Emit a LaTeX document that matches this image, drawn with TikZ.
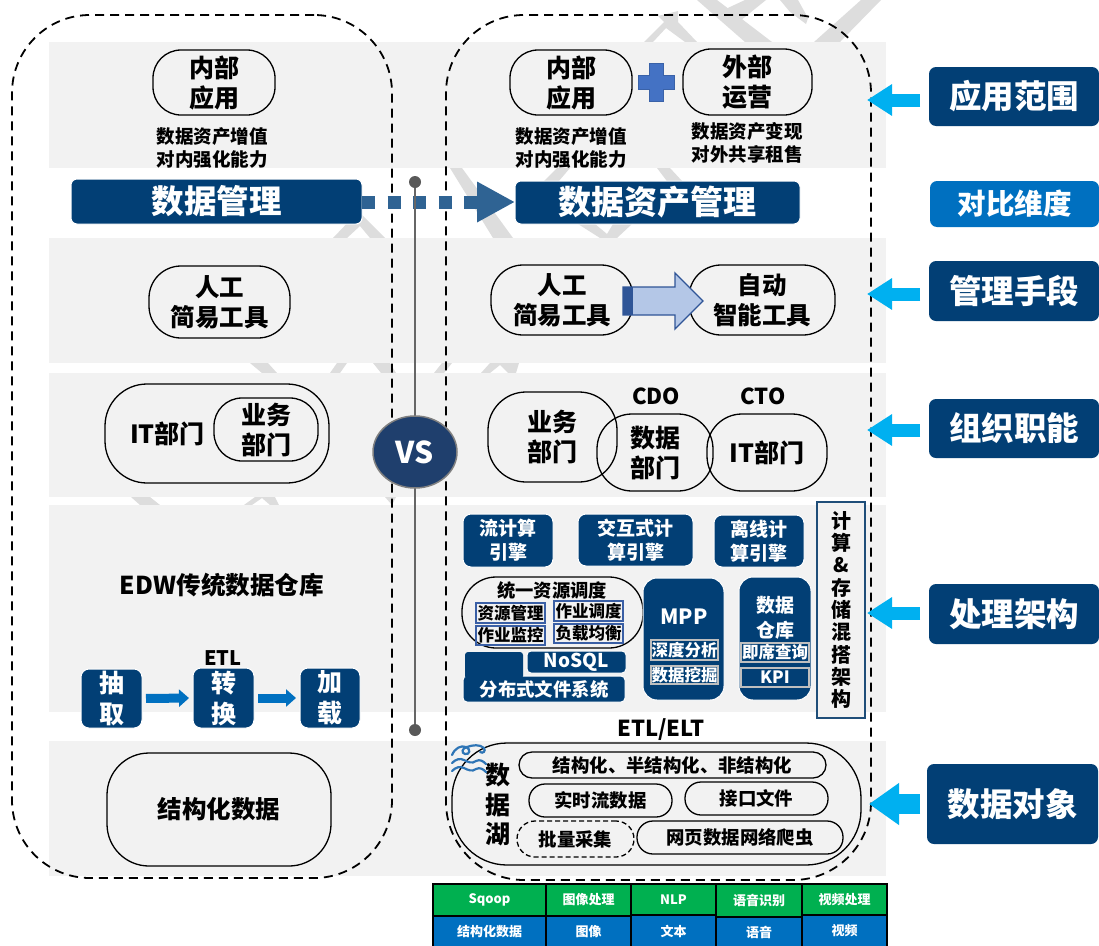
\documentclass[tikz,border=0pt]{standalone}
\usepackage{fontspec}
\setmainfont{Noto Sans CJK SC}
\usetikzlibrary{arrows.meta,shapes.geometric}
\definecolor{navy}{HTML}{023F75}
\definecolor{band}{HTML}{F2F2F2}
\definecolor{wm}{HTML}{DDDDDD}
\definecolor{cyanar}{HTML}{00B0F0}
\definecolor{midblue}{HTML}{0070C0}
\definecolor{tgreen}{HTML}{00B050}
\definecolor{dashblue}{HTML}{2F6393}
\definecolor{plusf}{HTML}{4472C4}
\definecolor{plusd}{HTML}{3A62A8}
\definecolor{arrf}{HTML}{B4C7E7}
\definecolor{arrd}{HTML}{2F5597}
\definecolor{insetb}{HTML}{3A5FA5}
\definecolor{vsf}{HTML}{1F3F6D}
\definecolor{wavec}{HTML}{2E75B6}
\definecolor{frm}{HTML}{1F4E79}
\newcommand\bx[7]{\pgfmathsetmacro\bxcx{(#2+#4)/2}\pgfmathsetmacro\bxcy{(#3+#5)/2}\pgfmathsetmacro\bxw{#4-#2}\pgfmathsetmacro\bxh{#5-#3}\node[#6,minimum width=\bxw pt,minimum height=\bxh pt] (#1) at (\bxcx,\bxcy) {#7};}
\tikzset{
  fs/.style 2 args={font=\fontsize{#1}{#2}\selectfont\bfseries,align=center,inner sep=0pt,outer sep=0pt},
  pill/.style={draw=black,line width=1.3pt,rounded corners=#1},
  navybox/.style={fill=navy,draw=white,line width=1pt,text=white,rounded corners=#1},
  sidebox/.style={fill=navy,text=white,rounded corners=7pt,fs={32.5}{36}},
  inset/.style={draw=#1,line width=1.5pt,fs={16.5}{18}},
  cyarrow/.style={cyanar,line width=13pt,-{Triangle[length=25pt,width=30pt]}},
  etlarrow/.style={midblue,line width=9pt,-{Triangle[length=10pt,width=17pt]},shorten >=4pt,shorten <=4pt},
  dashedbox/.style={draw=black,line width=1.8pt,dash pattern=on 9pt off 6pt,rounded corners=78pt},
  cell/.style={draw=black,line width=2pt,fill=#1,text=white,fs={13}{15}},
  dot/.style={circle,fill=black!65,minimum size=12pt,inner sep=0pt},
  wavestroke/.style={wavec,line width=2.2pt,line cap=round},
}
\begin{document}
\begin{tikzpicture}[x=1pt,y=-1pt]
\useasboundingbox (0,0) rectangle (1099,945);
\fill[white] (0,0) rectangle (1099,945);
% watermark
\fill[wm] (697,0)--(717,0)--(772,42)--(745,42)--cycle;
\fill[wm] (780,0)--(798,0)--(808,18)--(806,24)--(790,12)--cycle;
\fill[wm] (861,0)--(881,0)--(840,42)--(814,42)--cycle;
\fill[wm] (745,0)--(766,0)--(735,25)--(717,13)--cycle;
\fill[wm] (644,42)--(653,42)--(666,28)--(685,42)--(697,42)--(678,22)--(678,11)--(658,16)--(664,22)--cycle;
\fill[wm] (450,168)--(462,168)--(513,238)--(493,238)--cycle;
\fill[wm] (333,238)--(347,238)--(360,226)--(370,238)--(385,238)--(362,215)--(355,215)--cycle;
\fill[wm] (557,168)--(570,168)--(547,195)--(540,185)--cycle;
\fill[wm] (657,168)--(670,168)--(695,195)--(685,205)--cycle;
\fill[wm] (578,224)--(595,224)--(607,234)--(613,224)--(632,224)--(617,238)--(600,238)--cycle;
\fill[wm] (250,363)--(268,363)--(277,373)--(262,373)--cycle;
\fill[wm] (330,373)--(340,373)--(347,363)--(337,363)--cycle;
\fill[wm] (373,363)--(390,363)--(396,373)--(381,373)--cycle;
\fill[wm] (434,373)--(444,373)--(452,363)--(442,363)--cycle;
\fill[wm] (481,373)--(490,373)--(500,365)--(508,373)--(516,373)--(519,363)--(490,363)--cycle;
\fill[wm] (131,497)--(150,497)--(160,505)--(140,505)--cycle;
\fill[wm] (244,505)--(252,505)--(262,498)--(270,505)--(279,505)--(275,497)--(255,497)--cycle;
\fill[wm] (385,497)--(396,497)--(392,505)--cycle;
% bands
\foreach \yy/\zz in {42/168,238/363,373/497,505/712,741/876}{\fill[band] (49,\yy) rectangle (886,\zz);}
% dashed frames
\bx{leftframe}{12}{15}{392}{878}{dashedbox}{}
\bx{rightframe}{446}{15}{871}{880}{dashedbox}{}
% row 1
\bx{a1}{153}{50}{275}{115}{pill=28pt,fs={25}{30}}{内部\\应用}
\node[fs={18.5}{22.5}] (a1t) at (212,148) {数据资产增值\\对内强化能力};
\bx{b1}{510}{50}{632}{115}{pill=28pt,fs={25}{30}}{内部\\应用}
\node[fs={18.5}{22.5}] (b1t) at (571,148) {数据资产增值\\对内强化能力};
\bx{b2}{683}{49}{812}{115}{pill=28pt,fs={25}{30}}{外部\\运营}
\node[fs={18.5}{22.5}] (b2t) at (747,143) {数据资产变现\\对外共享租售};
\draw[fill=plusf,draw=plusd,line width=1pt] (649,63)--(663,63)--(663,75)--(674,75)--(674,89)--(663,89)--(663,101)--(649,101)--(649,89)--(638,89)--(638,75)--(649,75)--cycle;
% row 2
\bx{m1}{71}{179}{362}{224}{navybox=6pt,fs={32.5}{36}}{数据管理}
\bx{m2}{515}{181}{800}{224}{navybox=6pt,fs={33}{36}}{数据资产管理}
\draw[dashblue,line width=13pt,dash pattern=on 13pt off 12.5pt,-{Triangle[length=38pt,width=38pt]}] (m1.east|-0,202) -- (m2.west|-0,202);
% row 3
\bx{c1}{149}{266}{290}{338}{pill=32pt,fs={24.5}{30}}{\raisebox{0pt}{人工}\\简易工具}
\bx{d1}{491}{265}{633}{335}{pill=32pt,fs={24.5}{30}}{人工\\简易工具}
\bx{d2}{689}{265}{835}{335}{pill=32pt,fs={24.5}{30}}{自动\\智能工具}
\draw[fill=arrf,draw=arrd,line width=1.3pt] (623,287)--(675,287)--(675,273)--(703,301)--(675,329)--(675,315)--(623,315)--cycle;
\fill[arrd] (623,287) rectangle (633,315);
% row 4
\bx{e1}{105}{384}{329}{483}{pill=42pt,fs={25}{30}}{\hspace*{-99pt}IT部门}
\bx{e2}{214}{398}{318}{461}{pill=28pt,fs={25}{30}}{业务\\部门}
\bx{f1}{488}{392}{617}{482}{pill=38pt,fs={25}{30}}{业务\\部门}
\bx{f2}{597}{414}{713}{491}{pill=35pt,fs={25}{30}}{数据\\部门}
\bx{f3}{707}{414}{827}{491}{pill=35pt,fs={25}{30}}{IT部门}
\node[fs={22}{26}] (cdo) at (656,396) {CDO};
\node[fs={22}{26}] (cto) at (763,396) {CTO};
% row 5 left
\node[fs={24.6}{27}] (edw) at (222,585) {EDW传统数据仓库};
\node[fs={20}{24}] (etl) at (223,658) {ETL};
\bx{g1}{81}{669}{142}{728}{navybox=8pt,fs={25}{31}}{抽\\取}
\bx{g2}{193}{668}{254}{728}{navybox=8pt,fs={25}{31}}{转\\换}
\bx{g3}{300}{668}{360}{728}{navybox=8pt,fs={25}{31}}{加\\载}
\draw[etlarrow] (g1.east) -- (g2.west);
\draw[etlarrow] (g2.east) -- (g3.west);
% row 5 right
\bx{h1}{463}{514}{553}{567}{navybox=8pt,fs={19}{24}}{流计算\\引擎}
\bx{h2}{578}{514}{693}{566}{navybox=8pt,fs={19}{24}}{交互式计\\算引擎}
\bx{h3}{714}{515}{804}{567}{navybox=8pt,fs={19}{24}}{离线计\\算引擎}
\bx{i0}{462}{577}{643}{648}{pill=34pt}{}
\node[fs={18.3}{20}] (i0t) at (552,591) {统一资源调度};
\bx{i1}{476}{603}{545}{623}{inset=insetb}{资源管理}
\bx{i2}{554}{601}{623}{621}{inset=insetb}{作业调度}
\bx{i3}{476}{626}{545}{645}{inset=insetb}{作业监控}
\bx{i4}{554}{624}{623}{643}{inset=insetb}{负载均衡}
\bx{j1}{527}{651}{626}{673}{navybox=4pt,fs={19}{22}}{NoSQL}
\bx{j2}{463}{676}{625}{702}{navybox=4pt,fs={18.4}{22}}{分布式文件系统}
\fill[navy,rounded corners=3pt] (465,652) rectangle (523,679);
\bx{k1}{643}{578}{724}{700}{navybox=14pt}{}
\node[fs={21}{24},text=white] (k1t) at (684,617) {MPP};
\bx{k2}{651}{640}{718}{660}{inset=lightgray,text=white}{深度分析}
\bx{k3}{651}{666}{718}{684}{inset=lightgray,text=white}{数据挖掘}
\bx{l1}{739}{577}{811}{700}{navybox=14pt}{}
\node[fs={19}{24.5},text=white] (l1t) at (775,618) {数据\\仓库};
\bx{l2}{741}{643}{809}{662}{inset=lightgray,text=white}{即席查询}
\bx{l3}{741}{668}{809}{687}{inset=lightgray,text=white,fs={17}{18}}{KPI}
\bx{v1}{817}{502}{865}{718}{draw=frm,line width=1.8pt,fill=band,fs={20}{22.3}}{计\\算\\\&\\存\\储\\混\\搭\\架\\构}
% row 6 left
\bx{n1}{107}{753}{331}{866}{pill=42pt,fs={24.5}{30}}{结构化数据}
% data lake
\node[fs={22}{24}] (etlelt) at (661,730) {ETL/ELT};
\bx{o0}{452}{743}{861}{865}{pill=55pt}{}
\node[fs={25}{29.5}] (lake) at (498,805) {数\\据\\湖};
\bx{o1}{519}{752}{826}{778}{pill=13pt,fs={18.4}{22}}{结构化、半结构化、非结构化}
\bx{o2}{529}{784}{672}{817}{pill=16pt,fs={18.4}{22}}{实时流数据}
\bx{o3}{685}{782}{828}{815}{pill=16pt,fs={18.4}{22}}{接口文件}
\bx{o4}{517}{821}{634}{857}{pill=18pt,fs={18.4}{22},dash pattern=on 5pt off 3pt}{批量采集}
\bx{o5}{637}{821}{843}{854}{pill=16pt,fs={18.4}{22}}{网页数据网络爬虫}
% wave icon
\draw[wavestroke] (452,755) .. controls (455,748) and (461,745) .. (466,747)
  .. controls (471,749) and (470,755) .. (465,754) .. controls (461,753) and (462,748) .. (467,747)
  .. controls (472,745) and (480,744) .. (484,748) .. controls (486,751) and (483,754) .. (480,752);
\draw[wavestroke] (452,763) .. controls (456,759) and (460,758) .. (464,760) .. controls (468,762) and (472,764) .. (476,761) .. controls (480,759) and (483,761) .. (486,764);
\draw[wavestroke] (452,771) .. controls (456,767) and (460,766) .. (464,768) .. controls (468,770) and (472,772) .. (476,769) .. controls (480,767) and (483,769) .. (486,772);
% VS
\node[dot] (vt) at (415,182) {};
\node[dot] (vb) at (415,730) {};
\draw[black!60,line width=2pt] (vt) -- (vb);
\node[ellipse,fill=vsf,draw=black!50,line width=1.5pt,minimum width=84pt,minimum height=72pt,text=white,inner sep=0pt,font=\fontsize{30}{32}\selectfont\bfseries] (vs) at (415,452) {VS};
% side labels
\bx{r1}{929}{67}{1099}{126}{sidebox}{应用范围}
\bx{r2}{930}{181}{1099}{227}{sidebox,fill=midblue,fs={28.5}{32}}{对比维度}
\bx{r3}{929}{261}{1099}{321}{sidebox}{管理手段}
\bx{r4}{929}{399}{1099}{458}{sidebox}{组织职能}
\bx{r5}{929}{584}{1099}{644}{sidebox}{处理架构}
\bx{r6}{927}{764}{1098}{844}{sidebox}{数据对象}
\coordinate (ar1) at (867,100);
\coordinate (ar3) at (867,294);
\coordinate (ar4) at (867,430);
\coordinate (ar5) at (867,613);
\coordinate (ar6) at (869,804);
\draw[cyarrow,shorten <=9pt] (r1.west|-ar1) -- (ar1);
\draw[cyarrow,shorten <=9pt] (r3.west|-ar3) -- (ar3);
\draw[cyarrow,shorten <=9pt] (r4.west|-ar4) -- (ar4);
\draw[cyarrow,shorten <=9pt] (r5.west|-ar5) -- (ar5);
\draw[cyanar,line width=20pt,-{Triangle[length=30pt,width=40pt]},shorten <=7pt] (r6.west|-ar6) -- (ar6);
% table
\bx{t1}{433}{884}{546}{916}{cell=tgreen}{Sqoop}
\bx{t2}{546}{884}{631}{916}{cell=tgreen}{图像处理}
\bx{t3}{631}{884}{716}{915}{cell=tgreen}{NLP}
\bx{t4}{716}{884}{802}{917}{cell=tgreen}{语音识别}
\bx{t5}{802}{884}{887}{915}{cell=tgreen}{视频处理}
\bx{u1}{433}{916}{546}{947}{cell=midblue}{结构化数据}
\bx{u2}{546}{916}{631}{947}{cell=midblue}{图像}
\bx{u3}{631}{915}{716}{947}{cell=midblue}{文本}
\bx{u4}{716}{917}{802}{947}{cell=midblue}{语音}
\bx{u5}{802}{915}{887}{947}{cell=midblue}{视频}
\end{tikzpicture}
\end{document}
